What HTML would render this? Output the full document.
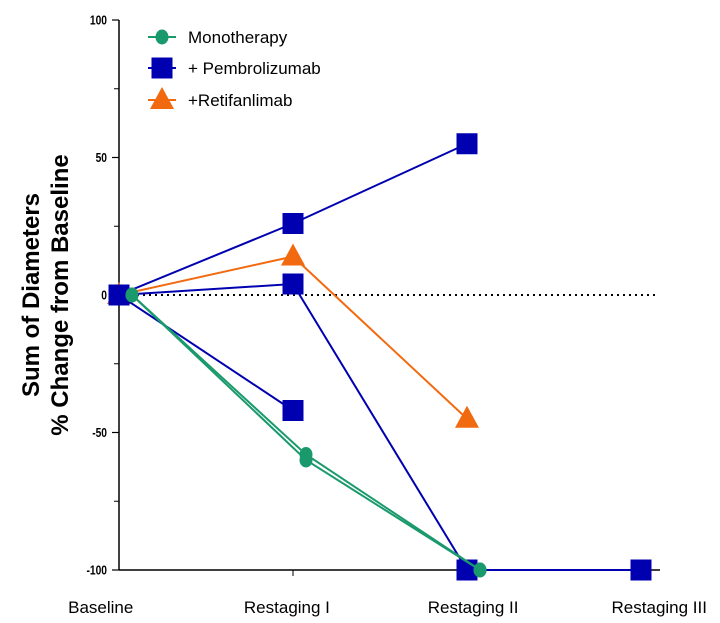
<!DOCTYPE html>
<html><head><meta charset="utf-8"><style>
html,body{margin:0;padding:0;background:#fff;}
svg{display:block;font-family:"Liberation Sans",Arial,sans-serif;}
</style></head><body>
<svg id="chart" width="720" height="623" viewBox="0 0 720 623" xmlns="http://www.w3.org/2000/svg">
<g id="axes"></g>
<g id="plot"></g>
<g id="legend"></g>
</svg>
<script>
const categories = ["Baseline","Restaging I","Restaging II","Restaging III"];
const yTicks = [100, 50, 0, -50, -100];
const yMinorTicks = [75, 25, -25, -75];
const pembroA = [0, 26, 55];
const pembroB = [0, 4, -100, -100];
const pembroC = [0, -42];
const retifA = [0, 14, -45];
const monoA = [0, -58, -100];
const monoB = [0, -60, -100];

const NS = "http://www.w3.org/2000/svg";
const X0 = 119, XSTEP = 174, Y0 = 295, YS = 2.75;
function x(i){ return X0 + i*XSTEP; }
function y(v){ return Y0 - v*YS; }
function mk(tag, attrs, parent){ const e=document.createElementNS(NS,tag); for(const k in attrs) e.setAttribute(k,attrs[k]); parent.appendChild(e); return e; }

const axes=document.getElementById('axes'), plot=document.getElementById('plot'), legend=document.getElementById('legend');
let yl=mk('line',{x1:X0,y1:y(100),x2:X0,y2:y(-100),stroke:'#000','stroke-width':1.5},axes);


yTicks.forEach(v=>{
  let t=mk('line',{x1:X0-7,y1:y(v),x2:X0,y2:y(v),stroke:'#000','stroke-width':1.2},axes);
  
  
  let l=mk('text',{x:0,y:0,'text-anchor':'end','font-size':12.5,'font-weight':'bold',fill:'#000',transform:`translate(${X0-12},${y(v)+4.5}) scale(0.82,1)`},axes);
  l.textContent=v;
  
  
});
yMinorTicks.forEach(v=>{
  let t=mk('line',{x1:X0-5,y1:y(v),x2:X0,y2:y(v),stroke:'#000','stroke-width':1},axes);
  
  
});
let xl=mk('line',{x1:X0,y1:y(-100),x2:660,y2:y(-100),stroke:'#000','stroke-width':1.5},axes);


let xt=mk('line',{x1:x(1),y1:y(-100),x2:x(1),y2:y(-100)+6,stroke:'#000','stroke-width':1},axes);


categories.forEach((c,i)=>{
  let l=mk('text',{x:380+(x(i)-380)*1.07,y:613,'text-anchor':'middle','font-size':17,fill:'#000'},axes);
  l.textContent=c;
  
  
});
let zl=mk('line',{x1:X0,y1:y(0),x2:658,y2:y(0),stroke:'#000','stroke-width':2,'stroke-dasharray':'2,4'},axes);


let yt=mk('text',{transform:'translate(45,295) rotate(-90)','text-anchor':'middle','font-size':24,'font-weight':'bold',fill:'#000'},axes);


let t1=mk('tspan',{x:0,dy:-6},yt); t1.textContent='Sum of Diameters';
let t2=mk('tspan',{x:0,dy:29},yt); t2.textContent='% Change from Baseline';

const BLUE='#0000b0', ORANGE='#f26a0f', GREEN='#1a9a6c';
function series(vals,color,marker,off,name){
  const pts=vals.map((v,i)=>[x(i)+off,y(v)]);
  let p=mk('polyline',{points:pts.map(p=>p.join(',')).join(' '),fill:'none',stroke:color,'stroke-width':2},plot);
  
  
  pts.forEach(([px,py])=>{
    let m=marker(px,py,color,plot);
    
    
  });
}
function sq(px,py,c,par){ return mk('rect',{x:px-10.5,y:py-10.5,width:21,height:21,fill:c},par); }
function tri(px,py,c,par){ return mk('polygon',{points:`${px},${py-13} ${px-12},${py+9} ${px+12},${py+9}`,fill:c},par); }
function circ(px,py,c,par){ return mk('ellipse',{cx:px,cy:py,rx:6.5,ry:7.5,fill:c},par); }

series(retifA,ORANGE,tri,0,'retifanlimab-patient-1');
series(pembroA,BLUE,sq,0,'pembrolizumab-patient-1');
series(pembroB,BLUE,sq,0,'pembrolizumab-patient-2');
series(pembroC,BLUE,sq,0,'pembrolizumab-patient-3');
series(monoA,GREEN,circ,13,'monotherapy-patient-1');
series(monoB,GREEN,circ,13,'monotherapy-patient-2');

const items=[["Monotherapy",GREEN,circ,37],["+ Pembrolizumab",BLUE,sq,68],["+Retifanlimab",ORANGE,tri,100]];
items.forEach(([label,c,m,ly])=>{
  let g=mk('g',{},legend);
  
  
  mk('line',{x1:148,y1:ly,x2:176,y2:ly,stroke:c,'stroke-width':2},g);
  m(162,ly,c,g);
  let t=mk('text',{x:188,y:ly+6,'font-size':17,fill:'#000'},g);
  t.textContent=label;
});
</script>
</body></html>
